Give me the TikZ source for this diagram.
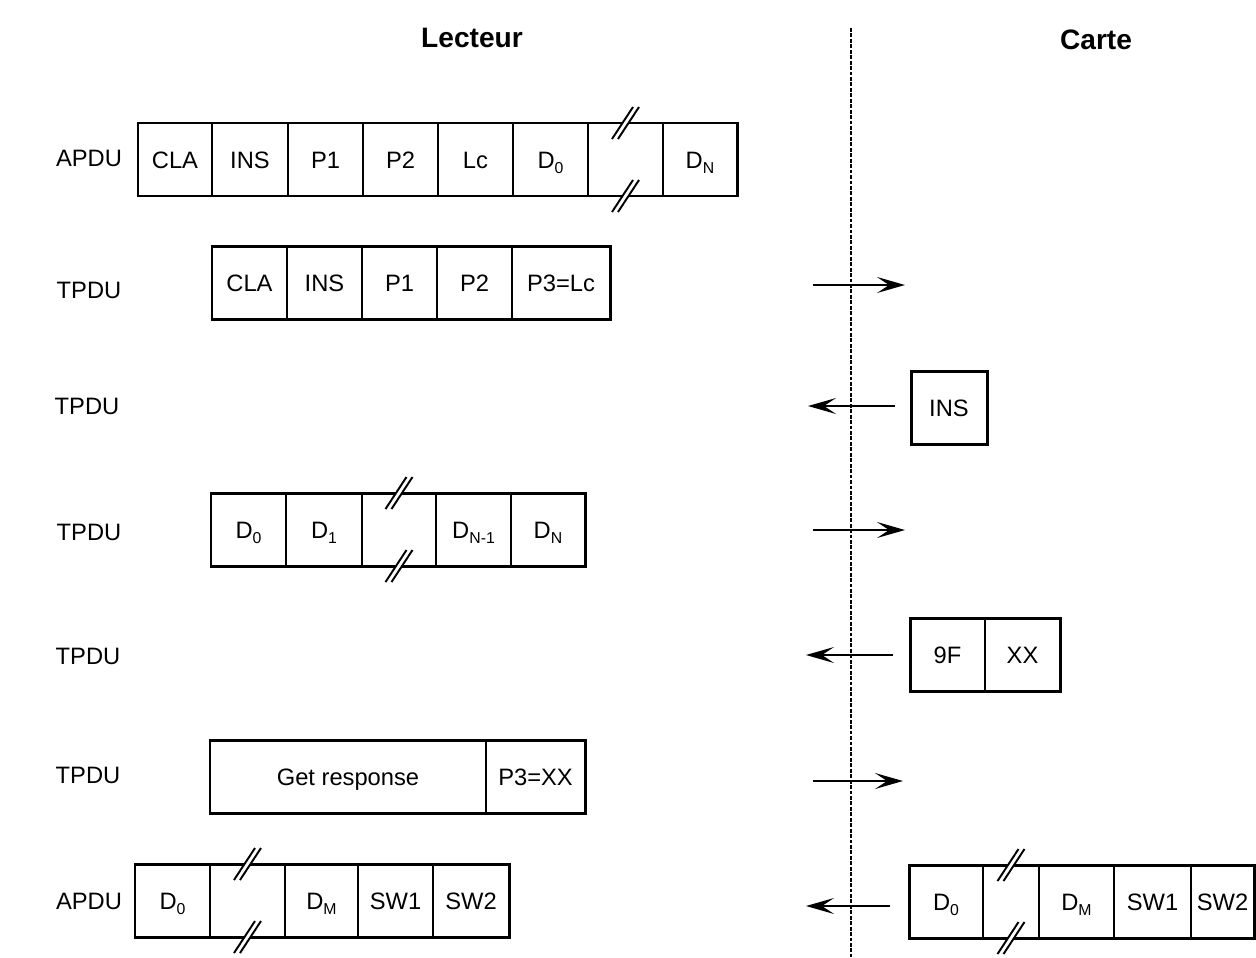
\documentclass[tikz,border=0pt]{standalone}
\usepackage{fontspec}
\setmainfont{Liberation Sans}
\usetikzlibrary{arrows.meta}
\newlength\pxu
\setlength\pxu{0.02cm}
\newcommand\sub[1]{\raisebox{-0.45ex}{\fontsize{9}{10}\selectfont #1}}
\newcommand\brkmark[1]{\begin{scope}[shift={(#1)}]
 \fill[white] (-13.5,16) -- (7.5,-16) -- (13.5,-16) -- (-7.5,16) -- cycle;
 \draw[brk] (-13.5,16) -- (7.5,-16) (-7.5,16) -- (13.5,-16);
\end{scope}}
\begin{document}
\begin{tikzpicture}[x=0.02cm,y=-0.02cm,
 cell/.style={draw, line width=1.3pt, minimum height=73\pxu, inner sep=0pt, outer sep=0pt, anchor=west, text height=9.7pt, text depth=0pt, font=\fontsize{13.5}{16}\selectfont},
 outer/.style={draw, line width=1.7pt},
 lbl/.style={font=\fontsize{13.5}{16}\selectfont, text height=9.7pt, text depth=0pt},
 ttl/.style={font=\fontsize{16}{19}\selectfont\bfseries},
 arr/.style={line width=1.1pt, -{Stealth[length=0.56cm,width=0.32cm,inset=0.24cm]}},
 sep/.style={line width=1.1pt, dash pattern=on 2.2pt off 0.9pt},
 brk/.style={line width=1.1pt}]
\useasboundingbox (0,0) rectangle (1256,957);
\fill[white] (0,0) rectangle (1256,957);
% titles
\node[ttl] (lect) at (472,38) {Lecteur};
\node[ttl] (carte) at (1096,40) {Carte};
% separator
\coordinate (vtop) at (851,28);
\coordinate (vbot) at (851,957);
\draw[sep] (vtop) -- (vbot);
% row 1
\node[lbl] (l1) at (89,158) {APDU};
\node[cell, minimum width=74\pxu] (r1c1) at (138,159.5) {CLA};
\node[cell, minimum width=76\pxu] (r1c2) at (r1c1.east) {INS};
\node[cell, minimum width=75\pxu] (r1c3) at (r1c2.east) {P1};
\node[cell, minimum width=75\pxu] (r1c4) at (r1c3.east) {P2};
\node[cell, minimum width=75\pxu] (r1c5) at (r1c4.east) {Lc};
\node[cell, minimum width=75\pxu] (r1c6) at (r1c5.east) {D\sub{0}};
\node[cell, minimum width=75\pxu] (r1c7) at (r1c6.east) {};
\node[cell, minimum width=74\pxu] (r1c8) at (r1c7.east) {D\sub{N}};
\draw[outer] (r1c1.north west) rectangle (r1c8.south east);
\brkmark{r1c7.north}
\brkmark{r1c7.south}
% row 2
\node[lbl] (l2) at (89,290) {TPDU};
\node[cell, minimum width=75\pxu] (r2c1) at (212,283) {CLA};
\node[cell, minimum width=75\pxu] (r2c2) at (r2c1.east) {INS};
\node[cell, minimum width=75\pxu] (r2c3) at (r2c2.east) {P1};
\node[cell, minimum width=75\pxu] (r2c4) at (r2c3.east) {P2};
\node[cell, minimum width=98\pxu] (r2c5) at (r2c4.east) {P3=Lc};
\draw[outer] (r2c1.north west) rectangle (r2c5.south east);
\coordinate (a2s) at (813,285);
\coordinate (a2e) at (905,285);
\draw[arr] (a2s) -- (a2e);
% row 3
\node[lbl] (l3) at (87,406) {TPDU};
\node[cell, minimum width=76\pxu] (r3c1) at (911,407.5) {INS};
\draw[outer] (r3c1.north west) rectangle (r3c1.south east);
\coordinate (a3s) at (895,406);
\coordinate (a3e) at (808,406);
\draw[arr] (a3s) -- (a3e);
% row 4
\node[lbl] (l4) at (89,532) {TPDU};
\node[cell, minimum width=75\pxu] (r4c1) at (211,529.5) {D\sub{0}};
\node[cell, minimum width=76\pxu] (r4c2) at (r4c1.east) {D\sub{1}};
\node[cell, minimum width=74\pxu] (r4c3) at (r4c2.east) {};
\node[cell, minimum width=75\pxu] (r4c4) at (r4c3.east) {D\sub{N-1}};
\node[cell, minimum width=74\pxu] (r4c5) at (r4c4.east) {D\sub{N}};
\draw[outer] (r4c1.north west) rectangle (r4c5.south east);
\brkmark{r4c3.north}
\brkmark{r4c3.south}
\coordinate (a4s) at (813,530);
\coordinate (a4e) at (905,530);
\draw[arr] (a4s) -- (a4e);
% row 5
\node[lbl] (l5) at (88,656) {TPDU};
\node[cell, minimum width=75\pxu] (r5c1) at (910,654.5) {9F};
\node[cell, minimum width=75\pxu] (r5c2) at (r5c1.east) {XX};
\draw[outer] (r5c1.north west) rectangle (r5c2.south east);
\coordinate (a5s) at (893,655);
\coordinate (a5e) at (806,655);
\draw[arr] (a5s) -- (a5e);
% row 6
\node[lbl] (l6) at (88,775) {TPDU};
\node[cell, minimum width=276\pxu] (r6c1) at (210,776.5) {Get response};
\node[cell, minimum width=99\pxu] (r6c2) at (r6c1.east) {P3=XX};
\draw[outer] (r6c1.north west) rectangle (r6c2.south east);
\coordinate (a6s) at (813,781);
\coordinate (a6e) at (903,781);
\draw[arr] (a6s) -- (a6e);
% row 7 left
\node[lbl] (l7) at (89,901) {APDU};
\node[cell, minimum width=75\pxu] (r7c1) at (135,900.5) {D\sub{0}};
\node[cell, minimum width=75\pxu] (r7c2) at (r7c1.east) {};
\node[cell, minimum width=73\pxu] (r7c3) at (r7c2.east) {D\sub{M}};
\node[cell, minimum width=75\pxu] (r7c4) at (r7c3.east) {SW1};
\node[cell, minimum width=76\pxu] (r7c5) at (r7c4.east) {SW2};
\draw[outer] (r7c1.north west) rectangle (r7c5.south east);
\brkmark{r7c2.north}
\brkmark{r7c2.south}
% row 7 right
\node[cell, minimum width=74\pxu] (r8c1) at (909,901.5) {D\sub{0}};
\node[cell, minimum width=56\pxu] (r8c2) at (r8c1.east) {};
\node[cell, minimum width=75\pxu] (r8c3) at (r8c2.east) {D\sub{M}};
\node[cell, minimum width=77\pxu] (r8c4) at (r8c3.east) {SW1};
\node[cell, minimum width=63\pxu] (r8c5) at (r8c4.east) {SW2};
\draw[outer] (r8c1.north west) rectangle (r8c5.south east);
\brkmark{r8c2.north}
\brkmark{r8c2.south}
\coordinate (a7s) at (890,906);
\coordinate (a7e) at (806,906);
\draw[arr] (a7s) -- (a7e);
\end{tikzpicture}
\end{document}
